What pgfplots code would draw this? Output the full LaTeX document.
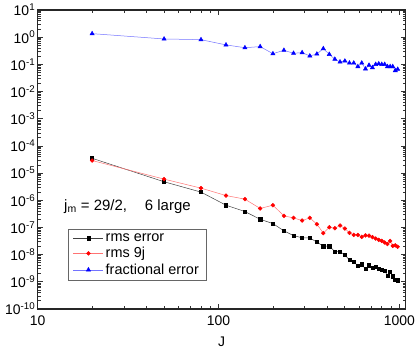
\documentclass[border=0pt]{standalone}
\usepackage{fontspec}
\setmainfont{Liberation Sans}
\usepackage{pgfplots}
\pgfplotsset{compat=1.18}

% J, rms error, rms 9j, fractional error
\pgfplotstableread{
J    rmserr   rms9j    frac
20   3.5e-5   2.9e-5   1.35
50   4.8e-6   6.0e-6   0.86
80   2.0e-6   2.8e-6   0.81
110  6.6e-7   1.49e-6  0.52
140  3.85e-7  1.1e-6   0.41
170  2.0e-7   5.0e-7   0.45
200  1.39e-7  6.6e-7   0.247
230  7.5e-8   2.67e-7  0.33
260  5.0e-8   2.25e-7  0.256
290  4.2e-8   1.8e-7   0.27
320  4.1e-8   2.25e-7  0.204
350  2.9e-8   1.32e-7  0.24
380  2.05e-8  6.2e-8   0.38
410  2.05e-8  1.02e-7  0.234
440  1.3e-8   9.4e-8   0.155
470  1.28e-8  1.18e-7  0.123
500  9.8e-9   9.1e-8   0.133
530  6.3e-9   6.3e-8   0.112
560  5.3e-9   5.3e-8   0.112
590  3.9e-9   5.3e-8   0.083
620  4.4e-9   4.5e-8   0.112
650  2.95e-9  5.1e-8   0.068
680  4.1e-9   5.0e-8   0.093
710  3.2e-9   4.4e-8   0.076
740  3.5e-9   3.9e-8   0.100
770  3.1e-9   3.5e-8   0.105
800  2.7e-9   3.2e-8   0.100
830  2.5e-9   2.8e-8   0.100
860  1.7e-9   2.46e-8  0.083
890  2.35e-9  3.2e-8   0.083
920  1.6e-9   2.1e-8   0.083
950  1.18e-9  2.2e-8   0.059
980  1.15e-9  1.95e-8  0.066
}\errtable

\begin{document}
\begin{tikzpicture}
\begin{axis}[
    scale only axis,
    width=368bp, height=299bp,
    xmode=log, ymode=log,
    xmin=10, xmax=1085,
    ymin=1e-10, ymax=10,
    axis line style={line width=1.3pt, black!85},
    tick style={black!80, line width=0.8pt},
    tick align=inside,
    major tick length=5bp,
    minor tick length=3bp,
    xtick={10,100,1000},
    xticklabels={10,100,1000},
    ytick={1e-10,1e-9,1e-8,1e-7,1e-6,1e-5,1e-4,1e-3,1e-2,1e-1,1,10},
    yticklabels={10\textsuperscript{-10},10\textsuperscript{-9},10\textsuperscript{-8},10\textsuperscript{-7},10\textsuperscript{-6},10\textsuperscript{-5},10\textsuperscript{-4},10\textsuperscript{-3},10\textsuperscript{-2},10\textsuperscript{-1},10\textsuperscript{0},10\textsuperscript{1}},
    ticklabel style={font=\fontsize{14}{16}\selectfont},
    yticklabel style={xshift=1bp},
    xticklabel style={yshift=-3bp},
    xlabel={J},
    xlabel style={font=\fontsize{14}{16}\selectfont, yshift=-5bp},
    legend cell align=left,
    legend style={at={(rel axis cs:0.082,0.268)}, anchor=north west,
        draw=black!60, line width=0.6pt,
        font=\fontsize{14.5}{16}\selectfont,
        row sep=0.5bp, inner xsep=5bp, inner ysep=2.5bp},
    legend image code/.code={%
        \draw[mark repeat=2,mark phase=2,#1] plot coordinates {(0cm,0cm) (0.53cm,0cm) (1.06cm,0cm)};},
]
\addplot[black!75, line width=0.5pt, mark=square*, mark size=1.6pt,
    mark options={fill=black, draw=black}] table[x=J, y=rmserr] {\errtable};
\addlegendentry{rms error}
\addplot[red!55, line width=0.5pt, mark=*, mark size=1.9pt,
    mark options={fill=red, draw=red}] table[x=J, y=rms9j] {\errtable};
\addlegendentry{rms 9j}
\addplot[blue!55, line width=0.5pt, mark=triangle*, mark size=2.4pt,
    mark options={fill=blue, draw=blue}] table[x=J, y=frac] {\errtable};
\addlegendentry{fractional error}
\node[anchor=base west, font=\fontsize{15}{17}\selectfont, inner sep=0pt]
    at (rel axis cs:0.0715,0.331) {j\textsubscript{m} = 29/2,\hspace{1.2em}6 large};
\end{axis}
\pgfresetboundingbox
\useasboundingbox (-37.7bp,-46bp) rectangle (377.3bp,309bp);
\end{tikzpicture}
\end{document}
